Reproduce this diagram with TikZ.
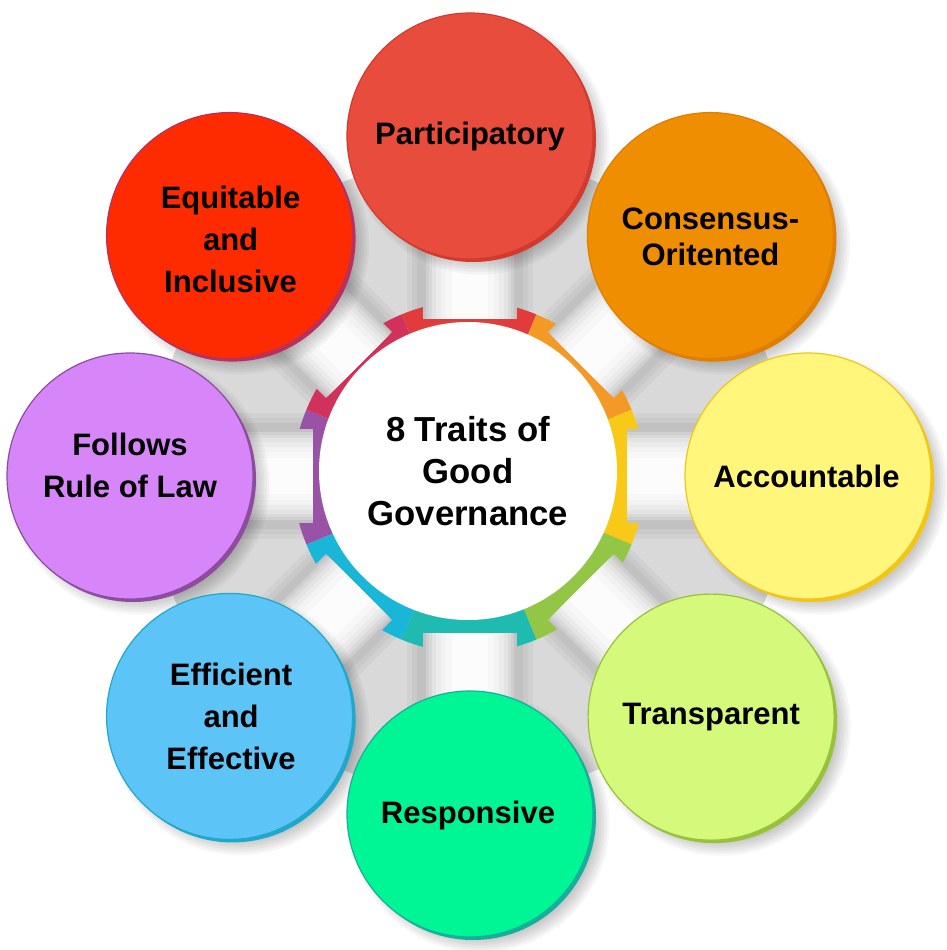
\documentclass[tikz,border=0pt]{standalone}
\usepackage{fontspec}
\setmainfont{Liberation Sans}
\usetikzlibrary{backgrounds}
% trait fills and rims
\definecolor{cPart}{HTML}{E84C3D}\definecolor{rPart}{HTML}{D33A2F}
\definecolor{cCons}{HTML}{EE8E00}\definecolor{rCons}{HTML}{E07E00}
\definecolor{cAcc}{HTML}{FFF67B}\definecolor{rAcc}{HTML}{F2C618}
\definecolor{cTra}{HTML}{D4F97B}\definecolor{rTra}{HTML}{98C23C}
\definecolor{cRes}{HTML}{00F594}\definecolor{rRes}{HTML}{17AE9E}
\definecolor{cEff}{HTML}{5CC4F6}\definecolor{rEff}{HTML}{1FA8C9}
\definecolor{cFol}{HTML}{D686F8}\definecolor{rFol}{HTML}{8D4C9E}
\definecolor{cEqu}{HTML}{FF2B00}\definecolor{rEqu}{HTML}{B8305E}
% ring segments
\definecolor{sTop}{HTML}{E23B3B}
\definecolor{sTR}{HTML}{F39A26}
\definecolor{sR}{HTML}{F8C916}
\definecolor{sBR}{HTML}{92C644}
\definecolor{sB}{HTML}{1FBAB0}
\definecolor{sBL}{HTML}{1AB6D8}
\definecolor{sL}{HTML}{9A52A6}
\definecolor{sTL}{HTML}{D1325C}
\pgfdeclareradialshading{halo}{\pgfpoint{0bp}{0bp}}{color(0bp)=(black!15); color(28bp)=(black!15); color(38bp)=(black!7); color(48bp)=(white); color(50bp)=(white)}
\tikzset{
  trait/.style={circle, minimum size=246pt, inner sep=0pt, line width=1.2pt},
  traittext/.style={align=center, inner sep=0pt, text=black,
    font=\fontsize{31}{42}\selectfont\bfseries},
  hubnode/.style={circle, minimum size=298pt, inner sep=0pt, fill=white,
    align=center, font=\fontsize{34.7}{42}\selectfont\bfseries},
}
\begin{document}
\begin{tikzpicture}[x=1pt,y=1pt]
\useasboundingbox (-470,-474) rectangle (476,476);
\coordinate (hub) at (0,0);
\node[hubnode] (ctr) at (-2,5) {8 Traits of\\Good\\Governance};
\node[trait, fill=cPart, draw=rPart] (part) at (90:340) {};
\node[trait, fill=cCons, draw=rCons] (cons) at (45:340) {};
\node[trait, fill=cAcc, draw=rAcc] (acc) at (0:338) {};
\node[trait, fill=cTra, draw=rTra] (tra) at (-45:341) {};
\node[trait, fill=cRes, draw=rRes] (res) at (-90:338) {};
\node[trait, fill=cEff, draw=rEff] (eff) at (-135:340) {};
\node[trait, fill=cFol, draw=rFol] (fol) at (180:340) {};
\node[trait, fill=cEqu, draw=rEqu] (equ) at (135:340) {};
\node[traittext] (partT) at (part.center) {Participatory};
\node[traittext, font=\fontsize{31}{36}\selectfont\bfseries] (consT) at ([yshift=-1]cons.center) {Consensus-\\Oritented};
\node[traittext] (accT) at ([xshift=-1.5]acc.center) {Accountable};
\node[traittext] (traT) at (tra.center) {Transparent};
\node[traittext] (resT) at ([xshift=-2,yshift=-1]res.center) {Responsive};
\node[traittext] (effT) at ([xshift=1.5]eff.center) {Efficient\\and\\Effective};
\node[traittext] (folT) at ([yshift=11]fol.center) {Follows\\Rule of Law};
\node[traittext] (equT) at ([xshift=1,yshift=-4]equ.center) {Equitable\\and\\Inclusive};
\begin{pgfonlayer}{background}
  \fill[white] (-470,-474) rectangle (476,476);
  \shade[shading=halo] (hub) circle (320);
  % soft shadows of the bands
  \foreach \n in {part,cons,acc,tra,res,eff,fol,equ}{
    \foreach \w in {125,115,105}{
      \draw[black, opacity=0.035, line width=\w pt, shorten <=165pt] (hub) -- (\n.center);
    }
  }
  % coloured ring
  \foreach \a/\c in {90/sTop,45/sTR,0/sR,-45/sBR,-90/sB,-135/sBL,180/sL,135/sTL}{
    \fill[\c] (-1,-1) -- ++(\a-22.5:176) arc[start angle=\a-22.5, end angle=\a+22.5, radius=176] -- cycle;
  }
  % connector bands
  \foreach \n in {part,cons,acc,tra,res,eff,fol,equ}{
    \foreach \w/\g in {93/24,88/19,82/15,75/11,67/8,58/5,48/3,36/1}{
      \draw[draw=black!\g, line width=\w pt, shorten <=157pt] (hub) -- (\n.center);
    }
  }
  % drop shadows of the trait circles
  \foreach \n in {part,cons,acc,tra,res,eff,fol,equ}{
    \foreach \k in {0,...,5}{
      \fill[black, opacity=0.035] ([shift={(10,-9)}]\n.center) circle [radius=117+\k*2.5];
    }
  }
  % darker rims (3D edge)
  \foreach \n/\c in {part/rPart,cons/rCons,acc/rAcc,tra/rTra,res/rRes,eff/rEff,fol/rFol,equ/rEqu}{
    \fill[\c] ([shift={(3,-3)}]\n.center) circle [radius=123];
  }
\end{pgfonlayer}
\end{tikzpicture}
\end{document}
